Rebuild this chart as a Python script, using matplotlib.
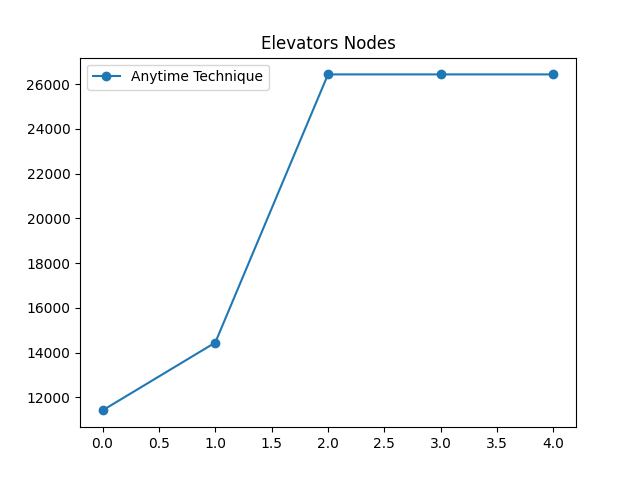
import matplotlib
matplotlib.use('Agg')
from matplotlib import pyplot as plt

# data
iterations = [0, 1, 2, 3, 4]
anytime_nodes = [11420, 14450, 26430, 26430, 26430]

fig, ax = plt.subplots(figsize=(6.4, 4.8), dpi=100)
ax.plot(iterations, anytime_nodes, marker='o', label='Anytime Technique')
ax.set_title('Elevators Nodes')
ax.legend(loc='upper left')
fig.savefig('out.png')
